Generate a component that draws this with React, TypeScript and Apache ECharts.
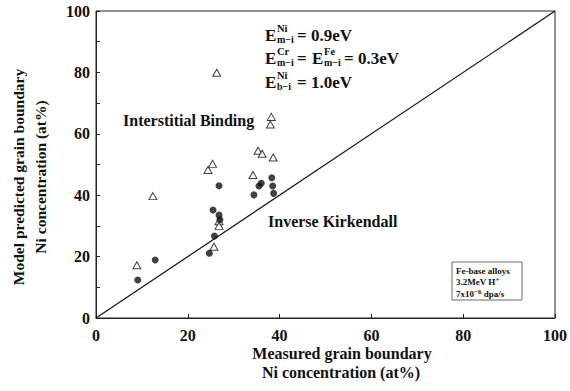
import React, { useEffect, useRef } from "react";
import * as echarts from "echarts";

const triangleX = [8.9, 12.4, 24.4, 25.4, 26.8, 26.8, 25.7, 34.2, 26.3, 38.2, 38.0, 35.3, 36.2, 38.6];
const triangleY = [17.2, 39.7, 48.2, 50.2, 31.5, 30.0, 23.2, 46.6, 79.9, 65.5, 63.0, 54.5, 53.5, 52.3];
const circleX = [9.1, 12.9, 24.7, 25.8, 25.5, 26.8, 26.8, 27.0, 34.4, 35.5, 36.0, 38.3, 38.5, 38.7];
const circleY = [12.4, 18.9, 21.1, 26.7, 35.2, 43.1, 33.5, 32.0, 40.1, 43.0, 43.9, 45.7, 43.0, 40.6];
const diagonal = [[0, 0], [100, 100]];
const xTitle = ["Measured grain boundary", "Ni concentration (at%)"];
const yTitle = ["Model predicted grain boundary", "Ni concentration (at%)"];
const boxLines = ["Fe-base alloys", "3.2MeV H{sup|+}", "7x10{sup|\u22126} dpa/s"];

const SERIF = "Liberation Serif";
const font = (size: number) => `bold ${size}px "${SERIF}"`;

function txt(text: string, x: number, y: number, size: number, extra: any = {}) {
  return {
    type: "text",
    x,
    y,
    ...extra,
    style: {
      text,
      font: font(size),
      fill: "#111",
      textAlign: extra.align || "left",
      textVerticalAlign: "middle",
    },
  };
}

function energyLine(y: number, sup: string, sub: string, rest: any[]) {
  const els: any[] = [
    txt("E", 265, y, 17),
    txt(sup, 277, y - 7, 10.5),
    txt(sub, 277, y + 4, 10),
  ];
  return els.concat(rest);
}

export default function App() {
  const ref = useRef<HTMLDivElement>(null);
  useEffect(() => {
    if (!ref.current) return;
    const chart = echarts.init(ref.current, null, { renderer: "svg" });
    const tri = triangleX.map((x, i) => [x, triangleY[i]]);
    const cir = circleX.map((x, i) => [x, circleY[i]]);
    const axisCommon = {
      min: 0,
      max: 100,
      axisLine: { show: true, lineStyle: { color: "#222", width: 1 } },
      axisTick: { show: true, inside: true, length: 4, lineStyle: { color: "#222" } },
      splitLine: { show: false },
    };
    const graphic: any[] = [
      ...energyLine(35, "Ni", "m\u2212i", [txt("= 0.9eV", 297, 35, 17)]),
      ...energyLine(58, "Cr", "m\u2212i", [
        txt("=", 297, 58, 17),
        txt("E", 312, 58, 17),
        txt("Fe", 324, 51, 10.5),
        txt("m\u2212i", 324, 62, 10),
        txt("= 0.3eV", 344, 58, 17),
      ]),
      ...energyLine(82, "Ni", "b\u2212i", [txt("= 1.0eV", 297, 82, 17)]),
      txt("Interstitial Binding", 123, 120, 16),
      txt("Inverse Kirkendall", 268, 221, 16),
      {
        type: "rect",
        shape: { x: 452, y: 262, width: 70, height: 38 },
        style: { fill: "#fff", stroke: "#444", lineWidth: 0.8 },
      },
      {
        type: "text",
        x: 456,
        y: 265,
        style: {
          text: boxLines.join("\n"),
          font: font(9),
          fill: "#111",
          lineHeight: 11.5,
          textAlign: "left",
          textVerticalAlign: "top",
          rich: {
            sup: { font: font(7), fill: "#111", verticalAlign: "top", lineHeight: 11.5, padding: [0, 0, 5, 0] },
          },
        },
      },
      txt(xTitle[0], 342, 353, 16, { align: "center" }),
      txt(xTitle[1], 341, 372, 16, { align: "center" }),
      { ...txt(yTitle[0], 18, 177, 15.5, { align: "center" }), rotation: Math.PI / 2 },
      { ...txt(yTitle[1], 40, 177, 15.5, { align: "center" }), rotation: Math.PI / 2 },
    ];
    chart.setOption({
      animation: false,
      backgroundColor: "#fff",
      grid: { left: 96, right: 13, top: 11, bottom: 73, show: true, borderColor: "#222", borderWidth: 1, backgroundColor: "transparent" },
      xAxis: {
        type: "value",
        ...axisCommon,
        interval: 20,
        axisLabel: { color: "#111", fontFamily: SERIF, fontWeight: "bold", fontSize: 16, margin: 9 },
      },
      yAxis: {
        type: "value",
        ...axisCommon,
        interval: 10,
        axisLabel: {
          color: "#111",
          fontFamily: SERIF,
          fontWeight: "bold",
          fontSize: 16,
          margin: 6,
          formatter: (v: number) => (v % 20 === 0 ? String(v) : ""),
        },
      },
      series: [
        {
          type: "line",
          data: diagonal,
          symbol: "none",
          lineStyle: { color: "#111", width: 1.2 },
        },
        {
          type: "scatter",
          data: tri,
          symbol: "triangle",
          symbolSize: [8, 7],
          itemStyle: { color: "#fff", borderColor: "#111", borderWidth: 1 },
        },
        {
          type: "scatter",
          data: cir,
          symbol: "circle",
          symbolSize: 7,
          itemStyle: { color: "#111" },
        },
      ],
      graphic,
    });
    return () => chart.dispose();
  }, []);
  return <div ref={ref} style={{ width: 570, height: 391, position: "absolute", left: 0, top: 0 }} />;
}
